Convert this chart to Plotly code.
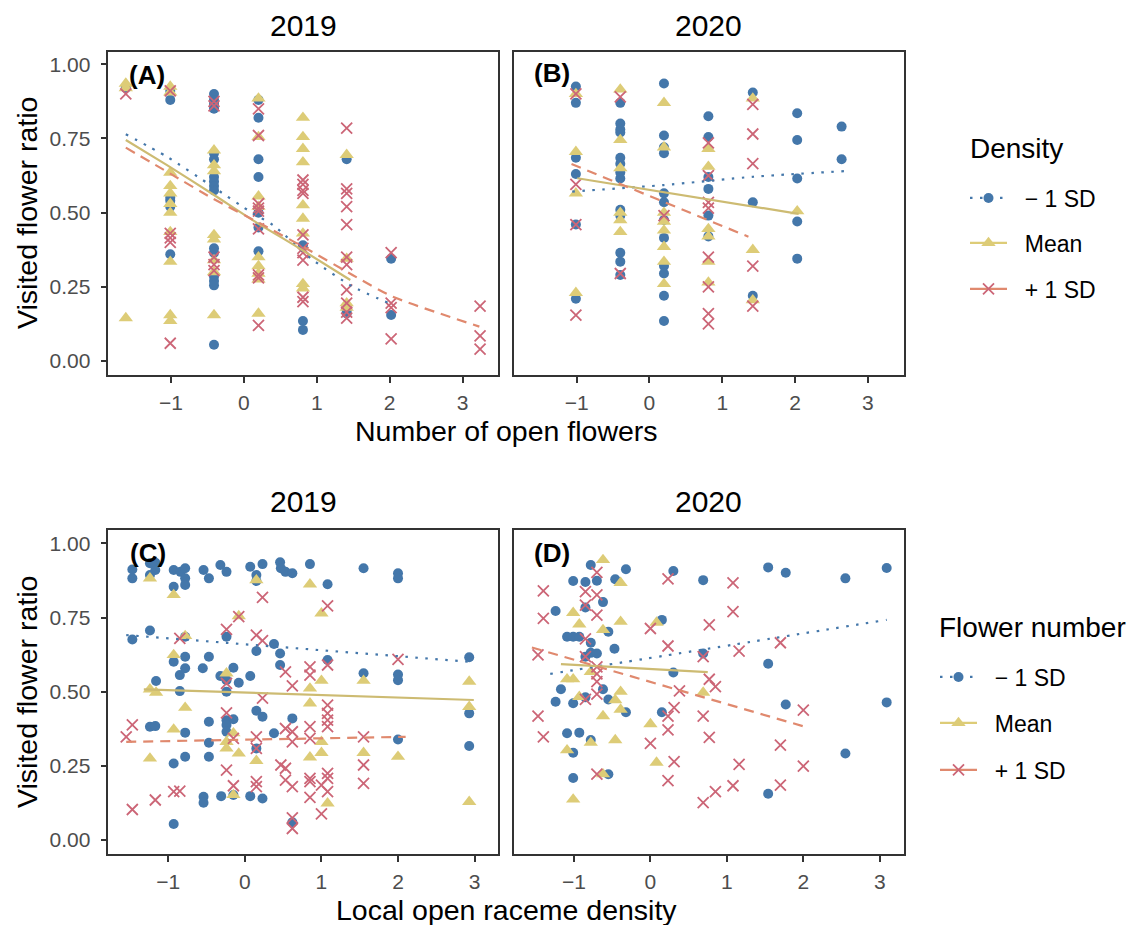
import plotly.graph_objects as go

# ---------------- DATA ----------------
# Panel A (2019, x = number of open flowers), groups: -1 SD / Mean / +1 SD density
A_lo_x = [-1.62,
          -1.01, -1.01, -1.01, -1.01, -1.01, -1.01,
          -0.41, -0.41, -0.41, -0.41, -0.41, -0.41, -0.41, -0.41, -0.41, -0.41, -0.41, -0.41, -0.41, -0.41, -0.41, -0.41, -0.41,
          0.20, 0.20, 0.20, 0.20, 0.20, 0.20, 0.20,
          0.81, 0.81, 0.81,
          1.41, 1.41, 1.41,
          2.02, 2.02]
A_lo_y = [0.92,
          0.91, 0.88, 0.55, 0.54, 0.52, 0.36,
          0.90, 0.88, 0.87, 0.86, 0.85, 0.70, 0.68, 0.62, 0.605, 0.59, 0.575, 0.38, 0.365, 0.285, 0.27, 0.255, 0.055,
          0.88, 0.82, 0.68, 0.62, 0.50, 0.45, 0.37,
          0.39, 0.135, 0.105,
          0.68, 0.17, 0.16,
          0.345, 0.155]
A_mid_x = [-1.62, -1.62, -1.62,
           -1.01, -1.01, -1.01, -1.01, -1.01, -1.01, -1.01, -1.01, -1.01, -1.01, -1.01,
           -0.41, -0.41, -0.41, -0.41, -0.41, -0.41, -0.41, -0.41,
           0.20, 0.20, 0.20, 0.20, 0.20, 0.20, 0.20, 0.20, 0.20,
           0.81, 0.81, 0.81, 0.81, 0.81, 0.81, 0.81, 0.81, 0.81,
           1.41, 1.41, 1.41, 1.41]
A_mid_y = [0.935, 0.92, 0.145,
           0.925, 0.905, 0.635, 0.59, 0.565, 0.53, 0.50, 0.435, 0.335, 0.155, 0.135,
           0.71, 0.66, 0.64, 0.425, 0.41, 0.34, 0.30, 0.155,
           0.885, 0.755, 0.555, 0.52, 0.35, 0.32, 0.295, 0.275, 0.16,
           0.82, 0.755, 0.715, 0.67, 0.525, 0.48, 0.43, 0.26, 0.245,
           0.695, 0.345, 0.195, 0.18]
A_hi_x = [-1.62,
          -1.01, -1.01, -1.01, -1.01, -1.01,
          -0.41, -0.41, -0.41, -0.41, -0.41,
          0.20, 0.20, 0.20, 0.20, 0.20, 0.20, 0.20, 0.20, 0.20,
          0.81, 0.81, 0.81, 0.81, 0.81, 0.81, 0.81, 0.81, 0.81, 0.81,
          1.41, 1.41, 1.41, 1.41, 1.41, 1.41, 1.41, 1.41, 1.41, 1.41, 1.41,
          2.02, 2.02, 2.02, 2.02,
          3.24, 3.24, 3.24]
A_hi_y = [0.90,
          0.91, 0.43, 0.415, 0.40, 0.06,
          0.875, 0.86, 0.35, 0.325, 0.305,
          0.85, 0.76, 0.53, 0.515, 0.505, 0.445, 0.29, 0.28, 0.12,
          0.61, 0.595, 0.575, 0.565, 0.425, 0.38, 0.365, 0.34, 0.215, 0.20,
          0.785, 0.58, 0.565, 0.52, 0.46, 0.35, 0.325, 0.24, 0.195, 0.165, 0.145,
          0.365, 0.195, 0.18, 0.075,
          0.185, 0.085, 0.04]
# fitted curves, panel A
A_fit_lo_x = [-1.62, -1.06, -0.43, 0.12, 0.40, 0.95, 1.49, 2.00]
A_fit_lo_y = [0.764, 0.689, 0.588, 0.498, 0.458, 0.340, 0.251, 0.194]
A_fit_mid_x = [-1.62, -1.06, -0.43, 0.12, 0.76, 1.46]
A_fit_mid_y = [0.745, 0.661, 0.563, 0.475, 0.380, 0.273]
A_fit_hi_x = [-1.62, -1.02, -0.43, 0.22, 0.85, 1.49, 2.04, 3.23]
A_fit_hi_y = [0.719, 0.633, 0.548, 0.464, 0.380, 0.290, 0.217, 0.116]

# Panel B (2020, x = number of open flowers)
B_lo_x = [-1.01, -1.01, -1.01, -1.01, -1.01, -1.01,
          -0.40, -0.40, -0.40, -0.40, -0.40, -0.40, -0.40, -0.40, -0.40, -0.40, -0.40, -0.40, -0.40,
          0.20, 0.20, 0.20, 0.20, 0.20, 0.20, 0.20, 0.20, 0.20, 0.20, 0.20, 0.20,
          0.81, 0.81, 0.81, 0.81, 0.81, 0.81,
          1.42, 1.42, 1.42,
          2.03, 2.03, 2.03, 2.03, 2.03,
          2.64, 2.64]
B_lo_y = [0.925, 0.87, 0.685, 0.63, 0.46, 0.21,
          0.87, 0.80, 0.78, 0.77, 0.685, 0.665, 0.635, 0.615, 0.51, 0.49, 0.365, 0.335, 0.29,
          0.935, 0.76, 0.72, 0.70, 0.565, 0.535, 0.475, 0.415, 0.32, 0.295, 0.22, 0.135,
          0.825, 0.755, 0.62, 0.58, 0.49, 0.42,
          0.905, 0.535, 0.22,
          0.835, 0.745, 0.615, 0.47, 0.345,
          0.79, 0.68]
B_mid_x = [-1.01, -1.01, -1.01, -1.01,
           -0.40, -0.40, -0.40, -0.40, -0.40, -0.40,
           0.20, 0.20, 0.20, 0.20, 0.20, 0.20, 0.20, 0.20,
           0.81, 0.81, 0.81, 0.81, 0.81, 0.81,
           1.42, 1.42, 1.42,
           2.03]
B_mid_y = [0.90, 0.705, 0.565, 0.23,
           0.915, 0.745, 0.65, 0.50, 0.475, 0.435,
           0.87, 0.72, 0.50, 0.47, 0.44, 0.385, 0.335, 0.26,
           0.715, 0.655, 0.445, 0.42, 0.335, 0.265,
           0.885, 0.375, 0.205,
           0.505]
B_hi_x = [-1.01, -1.01, -1.01, -1.01,
          -0.40, -0.40,
          0.20,
          0.81, 0.81, 0.81, 0.81, 0.81, 0.81, 0.81, 0.81,
          1.42, 1.42, 1.42, 1.42, 1.42]
B_hi_y = [0.90, 0.595, 0.46, 0.155,
          0.89, 0.295,
          0.49,
          0.735, 0.625, 0.535, 0.515, 0.35, 0.25, 0.16, 0.125,
          0.865, 0.765, 0.665, 0.32, 0.185]
B_fit_lo_x = [-1.06, 0.20, 1.43, 2.68]
B_fit_lo_y = [0.571, 0.593, 0.621, 0.640]
B_fit_mid_x = [-0.99, 2.05]
B_fit_mid_y = [0.616, 0.496]
B_fit_hi_x = [-1.07, 1.36]
B_fit_hi_y = [0.664, 0.419]

# Panel C (2019, x = local open raceme density), groups: flower number
C_lo_x = [-1.47, -1.47, -1.24, -1.17, -1.17, -1.24, -0.93, -0.84, -0.78, -0.78, -0.78, -0.93, -0.54, -0.47, -0.32,
          -0.24, 0.07, 0.15, 0.15, 0.23, 0.46, 0.47, 0.53, 0.62, 0.85, 1.08, 1.55, 2.00, 2.00,
          -1.47, -1.24, -0.78, -0.24, 0.15, 0.38, 0.46, -0.78, -0.47, -0.93, -0.78, -0.85, -0.55, -0.15,
          -0.32, -0.24, -0.08, 0.07, -1.16, -0.85, -0.24, 0.46, 1.08, 1.55, 2.00, 2.00, 2.93, 2.93,
          -1.24, -1.17, -0.78, -0.47, -0.24, -0.15, -0.24, -0.24, 0.15, 0.23, 0.62, 0.38, -0.47, 0.15,
          2.00, 2.93,
          -0.93, -0.78, -0.47, -0.54, -0.54, -0.31, -0.15, 0.07, 0.23, -0.93, 0.62]
C_lo_y = [0.912, 0.882, 0.933, 0.935, 0.910, 0.893, 0.910, 0.904, 0.916, 0.882, 0.860, 0.854, 0.910, 0.882, 0.927,
          0.904, 0.921, 0.893, 0.873, 0.930, 0.936, 0.916, 0.904, 0.899, 0.930, 0.862, 0.916, 0.899, 0.882,
          0.676, 0.706, 0.685, 0.685, 0.637, 0.661, 0.629, 0.618, 0.618, 0.601, 0.579, 0.556, 0.579, 0.581,
          0.553, 0.539, 0.530, 0.553, 0.536, 0.502, 0.500, 0.590, 0.607, 0.562, 0.558, 0.539, 0.616, 0.427,
          0.382, 0.384, 0.362, 0.399, 0.404, 0.407, 0.388, 0.365, 0.436, 0.416, 0.410, 0.360, 0.328, 0.309,
          0.339, 0.317,
          0.258, 0.281, 0.281, 0.146, 0.126, 0.148, 0.152, 0.148, 0.140, 0.054, 0.060]
C_mid_x = [-1.24, -0.93, 0.85, 0.15, -0.08, 1.00, -0.78, -0.93, -0.24, -1.24, -1.16, -0.78, 0.85, 0.85, 1.00,
           1.55, 2.93, 2.93, -0.93, -0.15, -0.24, -0.24, -0.08, -1.24, 0.15, 0.85, 1.00, 1.00, 1.55, 2.00,
           -0.15, 1.08, 2.93]
C_mid_y = [0.882, 0.826, 0.862, 0.876, 0.755, 0.764, 0.688, 0.624, 0.562, 0.508, 0.497, 0.446, 0.511, 0.461, 0.537,
           0.537, 0.534, 0.449, 0.373, 0.360, 0.331, 0.309, 0.292, 0.275, 0.267, 0.279, 0.331, 0.294, 0.294, 0.281,
           0.152, 0.124, 0.129]
C_hi_x = [-1.47, -1.55, -1.47, -1.17, -0.93, -0.85, -0.85, -0.24, 0.15, 0.23, 0.23, -0.08, 1.08, -0.24, 0.23,
          0.53, 0.62, 0.85, 0.85, 1.08, 1.08, 1.08, 1.08, 1.08, 2.00, -0.24, -0.15, 0.15, 0.15, 0.53,
          0.62, 0.62, 0.85, 0.85, 1.55, -0.24, -0.15, 0.15, 0.15, 0.47, 0.53, 0.53, 0.62, 0.85, 0.85,
          0.85, 1.00, 1.08, 1.08, 1.08, 1.55, 1.55, 0.62, 0.62, 1.00]
C_hi_y = [0.388, 0.348, 0.103, 0.135, 0.163, 0.165, 0.680, 0.710, 0.691, 0.672, 0.818, 0.753, 0.789, 0.528, 0.478,
          0.567, 0.520, 0.584, 0.556, 0.590, 0.455, 0.427, 0.404, 0.382, 0.609, 0.429, 0.343, 0.348, 0.309, 0.376,
          0.365, 0.331, 0.382, 0.343, 0.348, 0.236, 0.183, 0.197, 0.180, 0.253, 0.242, 0.202, 0.180, 0.208, 0.197,
          0.144, 0.185, 0.225, 0.208, 0.163, 0.253, 0.191, 0.075, 0.039, 0.088]
C_fit_lo_x = [-1.55, 2.93]
C_fit_lo_y = [0.691, 0.601]
C_fit_mid_x = [-1.32, 2.99]
C_fit_mid_y = [0.508, 0.472]
C_fit_hi_x = [-1.55, 2.10]
C_fit_hi_y = [0.331, 0.348]

# Panel D (2020, x = local open raceme density)
D_lo_x = [-0.78, -0.32, -1.01, -0.85, -0.70, -0.46, 0.30, 0.69, 1.54, 1.77, 2.55, 3.09,
          -1.24, -0.85, -0.62, 0.15, -0.55, -1.09, -1.01, -0.93, -0.78, -0.47, -0.78, -0.70, -0.85,
          0.69, 1.54, 0.30, -1.17, -0.62, -0.85, -0.55, -1.24, -1.01, -0.32, 0.15, 1.77, 3.09,
          -1.09, -0.93, -0.78, -1.01, 2.55, -1.01, -0.55, 1.54]
D_lo_y = [0.927, 0.913, 0.873, 0.870, 0.874, 0.879, 0.907, 0.876, 0.919, 0.901, 0.882, 0.917,
          0.772, 0.784, 0.802, 0.742, 0.702, 0.685, 0.685, 0.685, 0.665, 0.645, 0.631, 0.629, 0.618,
          0.629, 0.594, 0.565, 0.508, 0.508, 0.481, 0.474, 0.466, 0.461, 0.431, 0.431, 0.457, 0.464,
          0.360, 0.362, 0.337, 0.294, 0.292, 0.209, 0.222, 0.156]
D_mid_x = [-0.62, -0.39, -1.01, -0.93, -0.62, -0.39, 0.08, -0.78, -1.09, -1.01, -0.39, -0.93,
           -0.46, -0.39, -0.62, 0.69, 0.00, -0.78, -0.46, -1.09, 0.08, -0.62, -1.01]
D_mid_y = [0.944, 0.867, 0.766, 0.727, 0.708, 0.736, 0.733, 0.567, 0.542, 0.542, 0.500, 0.483,
           0.472, 0.440, 0.418, 0.497, 0.391, 0.328, 0.337, 0.303, 0.261, 0.222, 0.137]
D_hi_x = [-1.40, -1.40, -0.70, -0.85, -0.70, -0.85, -0.70, 0.23, 1.08, 1.08, 0.00, 0.77, -0.85, 0.23,
          -1.47, -0.85, 0.69, 1.16, 1.70, -0.70, -0.70, -0.70, 0.77, 0.85, 0.38, -0.70, -0.85, -1.47,
          0.31, 0.23, 0.69, 2.00, -1.40, 0.23, 0.77, 0.00, 1.70, 0.31, 1.16, 2.00, -0.70, 0.23, 1.08,
          0.85, 0.69, 1.70]
D_hi_y = [0.840, 0.747, 0.902, 0.837, 0.826, 0.792, 0.758, 0.880, 0.867, 0.770, 0.713, 0.725, 0.678, 0.654,
          0.624, 0.618, 0.618, 0.637, 0.665, 0.584, 0.560, 0.534, 0.542, 0.517, 0.503, 0.492, 0.474, 0.418,
          0.446, 0.418, 0.418, 0.438, 0.348, 0.371, 0.346, 0.326, 0.320, 0.264, 0.255, 0.249, 0.222, 0.200,
          0.183, 0.163, 0.126, 0.185]
D_fit_lo_x = [-1.31, 0.71, 3.09]
D_fit_lo_y = [0.560, 0.643, 0.742]
D_fit_mid_x = [-1.17, 0.75]
D_fit_mid_y = [0.593, 0.566]
D_fit_hi_x = [-1.55, 2.02]
D_fit_hi_y = [0.649, 0.382]

group_labels = ["\u2212 1 SD", "Mean", "+ 1 SD"]
year_labels = ["2019", "2020"]
panel_tags = ["(A)", "(B)", "(C)", "(D)"]
x_titles = ["Number of open flowers", "Local open raceme density"]
y_title = "Visited flower ratio"
legend_titles = ["Density", "Flower number"]
x_ticks = [-1, 0, 1, 2, 3]
y_ticks = [0, 0.25, 0.5, 0.75, 1.0]

# ---------------- STYLE ----------------
OFF = 8                      # page body margin of the html page
W, H = 1146 - OFF, 925 - OFF  # figure size so the figure fits the window
FONT = "Liberation Sans, Arial, Helvetica, sans-serif"
PT_COL = ["#4477AA", "#DDCC77", "#CC6677"]
LN_COL = ["#4477AA", "#CDBB72", "#E0896E"]
LN_DASH = ["2.5px,7.5px", "solid", "10px,7px"]
SYMS = ["circle", "triangle-up", "x-thin-open"]
SIZES = [10, 12.5, 11]


def px(p):
    return (p - OFF) / W


def py(p):
    return 1 - (p - OFF) / H


fig = go.Figure()

panels = [
    ("x", "y", [(A_lo_x, A_lo_y), (A_mid_x, A_mid_y), (A_hi_x, A_hi_y)],
     [(A_fit_lo_x, A_fit_lo_y), (A_fit_mid_x, A_fit_mid_y), (A_fit_hi_x, A_fit_hi_y)]),
    ("x2", "y2", [(B_lo_x, B_lo_y), (B_mid_x, B_mid_y), (B_hi_x, B_hi_y)],
     [(B_fit_lo_x, B_fit_lo_y), (B_fit_mid_x, B_fit_mid_y), (B_fit_hi_x, B_fit_hi_y)]),
    ("x3", "y3", [(C_lo_x, C_lo_y), (C_mid_x, C_mid_y), (C_hi_x, C_hi_y)],
     [(C_fit_lo_x, C_fit_lo_y), (C_fit_mid_x, C_fit_mid_y), (C_fit_hi_x, C_fit_hi_y)]),
    ("x4", "y4", [(D_lo_x, D_lo_y), (D_mid_x, D_mid_y), (D_hi_x, D_hi_y)],
     [(D_fit_lo_x, D_fit_lo_y), (D_fit_mid_x, D_fit_mid_y), (D_fit_hi_x, D_fit_hi_y)]),
]


def marker(i):
    m = dict(symbol=SYMS[i], size=SIZES[i], color=PT_COL[i])
    if SYMS[i] == "x-thin-open":
        m["line"] = dict(color=PT_COL[i], width=1.8)
    else:
        m["line"] = dict(width=0)
    return m


for xa, ya, pts, fits in panels:
    for i, (xs, ys) in enumerate(pts):
        fig.add_trace(go.Scatter(x=xs, y=ys, xaxis=xa, yaxis=ya, mode="markers",
                                 marker=marker(i), showlegend=False, hoverinfo="skip"))
    for i, (xs, ys) in enumerate(fits):
        fig.add_trace(go.Scatter(x=xs, y=ys, xaxis=xa, yaxis=ya, mode="lines",
                                 line=dict(color=LN_COL[i], width=2.2, dash=LN_DASH[i], shape="spline", smoothing=0.6),
                                 showlegend=False, hoverinfo="skip"))

# legend-only traces (each in its own legend for exact placement)
leg_y_px = [[198, 243, 289], [677, 723, 770]]
leg_x_px = [965, 935]
NB = "\u00a0\u00a0"
for g in range(2):
    for i in range(3):
        k = g * 3 + i + 1
        name = "legend" if k == 1 else f"legend{k}"
        fig.add_trace(go.Scatter(x=[None], y=[None], xaxis="x", yaxis="y", mode="lines+markers",
                                 name=NB + group_labels[i], marker=marker(i),
                                 line=dict(color=LN_COL[i] if i != 1 else PT_COL[1], width=2.2,
                                           dash=LN_DASH[i] if i != 2 else "solid"),
                                 legend=name, showlegend=True))

# ---------------- LAYOUT ----------------
xdom = [[px(108.3), px(498.3)], [px(514), px(903.5)]]
ydom = [[py(375), py(51.5)], [py(854.3), py(530)]]
xr = [[-1.86, 3.49], [-1.784, 3.31]]
yr = [[-0.047, 1.043], [-0.048, 1.045]]

axis_common = dict(showline=True, mirror=True, linecolor="#333333", linewidth=1.5,
                   ticks="outside", ticklen=6, tickwidth=1.5, tickcolor="#333333",
                   tickfont=dict(family=FONT, size=21, color="#4D4D4D"),
                   showgrid=False, zeroline=False, fixedrange=True)

layout = dict(width=W, height=H, margin=dict(l=0, r=0, t=0, b=0),
              paper_bgcolor="white", plot_bgcolor="white",
              font=dict(family=FONT, color="black"))

for k in range(4):
    row, col = k // 2, k % 2
    xn = "xaxis" if k == 0 else f"xaxis{k+1}"
    yn = "yaxis" if k == 0 else f"yaxis{k+1}"
    xid = "x" if k == 0 else f"x{k+1}"
    yid = "y" if k == 0 else f"y{k+1}"
    layout[xn] = dict(axis_common, domain=xdom[col], range=xr[row], anchor=yid,
                      tickvals=x_ticks, ticklabelstandoff=2)
    ydict = dict(axis_common, domain=ydom[row], range=yr[row], anchor=xid,
                 tickvals=y_ticks, tickformat=".2f", ticklabelstandoff=6)
    if col == 1:
        ydict.update(ticks="", showticklabels=False)
    layout[yn] = ydict

for k in range(6):
    g, i = k // 3, k % 3
    name = "legend" if k == 0 else f"legend{k+1}"
    layout[name] = dict(x=px(leg_x_px[g]), y=py(leg_y_px[g][i]), xanchor="left", yanchor="middle",
                        bgcolor="rgba(0,0,0,0)", borderwidth=0, itemwidth=37,
                        font=dict(family=FONT, size=23, color="black"))

ann = []
# facet titles
for row, ycen in enumerate([25.5, 502]):
    for col in range(2):
        ann.append(dict(text=year_labels[col], x=(xdom[col][0] + xdom[col][1]) / 2, y=py(ycen),
                        xref="paper", yref="paper", xanchor="center", yanchor="middle",
                        showarrow=False, font=dict(family=FONT, size=30, color="black")))
# panel tags
tag_pos = [(127, 75), (532, 73), (128, 553), (532, 553)]
for t, (tx, ty) in zip(panel_tags, tag_pos):
    ann.append(dict(text="<b>" + t + "</b>", x=px(tx), y=py(ty), xref="paper", yref="paper",
                    xanchor="left", yanchor="middle", showarrow=False,
                    font=dict(family=FONT, size=26, color="black")))
# axis titles
for row, ycen in enumerate([431, 910]):
    ann.append(dict(text=x_titles[row], x=px(506), y=py(ycen), xref="paper", yref="paper",
                    xanchor="center", yanchor="middle", showarrow=False,
                    font=dict(family=FONT, size=28.5, color="black")))
for ycen in [213, 692]:
    ann.append(dict(text=y_title, x=px(27), y=py(ycen), xref="paper", yref="paper",
                    xanchor="center", yanchor="middle", textangle=-90, showarrow=False,
                    font=dict(family=FONT, size=28.5, color="black")))
# legend titles
for g, (tx, ty) in enumerate([(968, 148), (937, 627)]):
    ann.append(dict(text=legend_titles[g], x=px(tx), y=py(ty), xref="paper", yref="paper",
                    xanchor="left", yanchor="middle", showarrow=False,
                    font=dict(family=FONT, size=28, color="black")))
layout["annotations"] = ann

fig.update_layout(**layout)
fig.write_html("out.html")
